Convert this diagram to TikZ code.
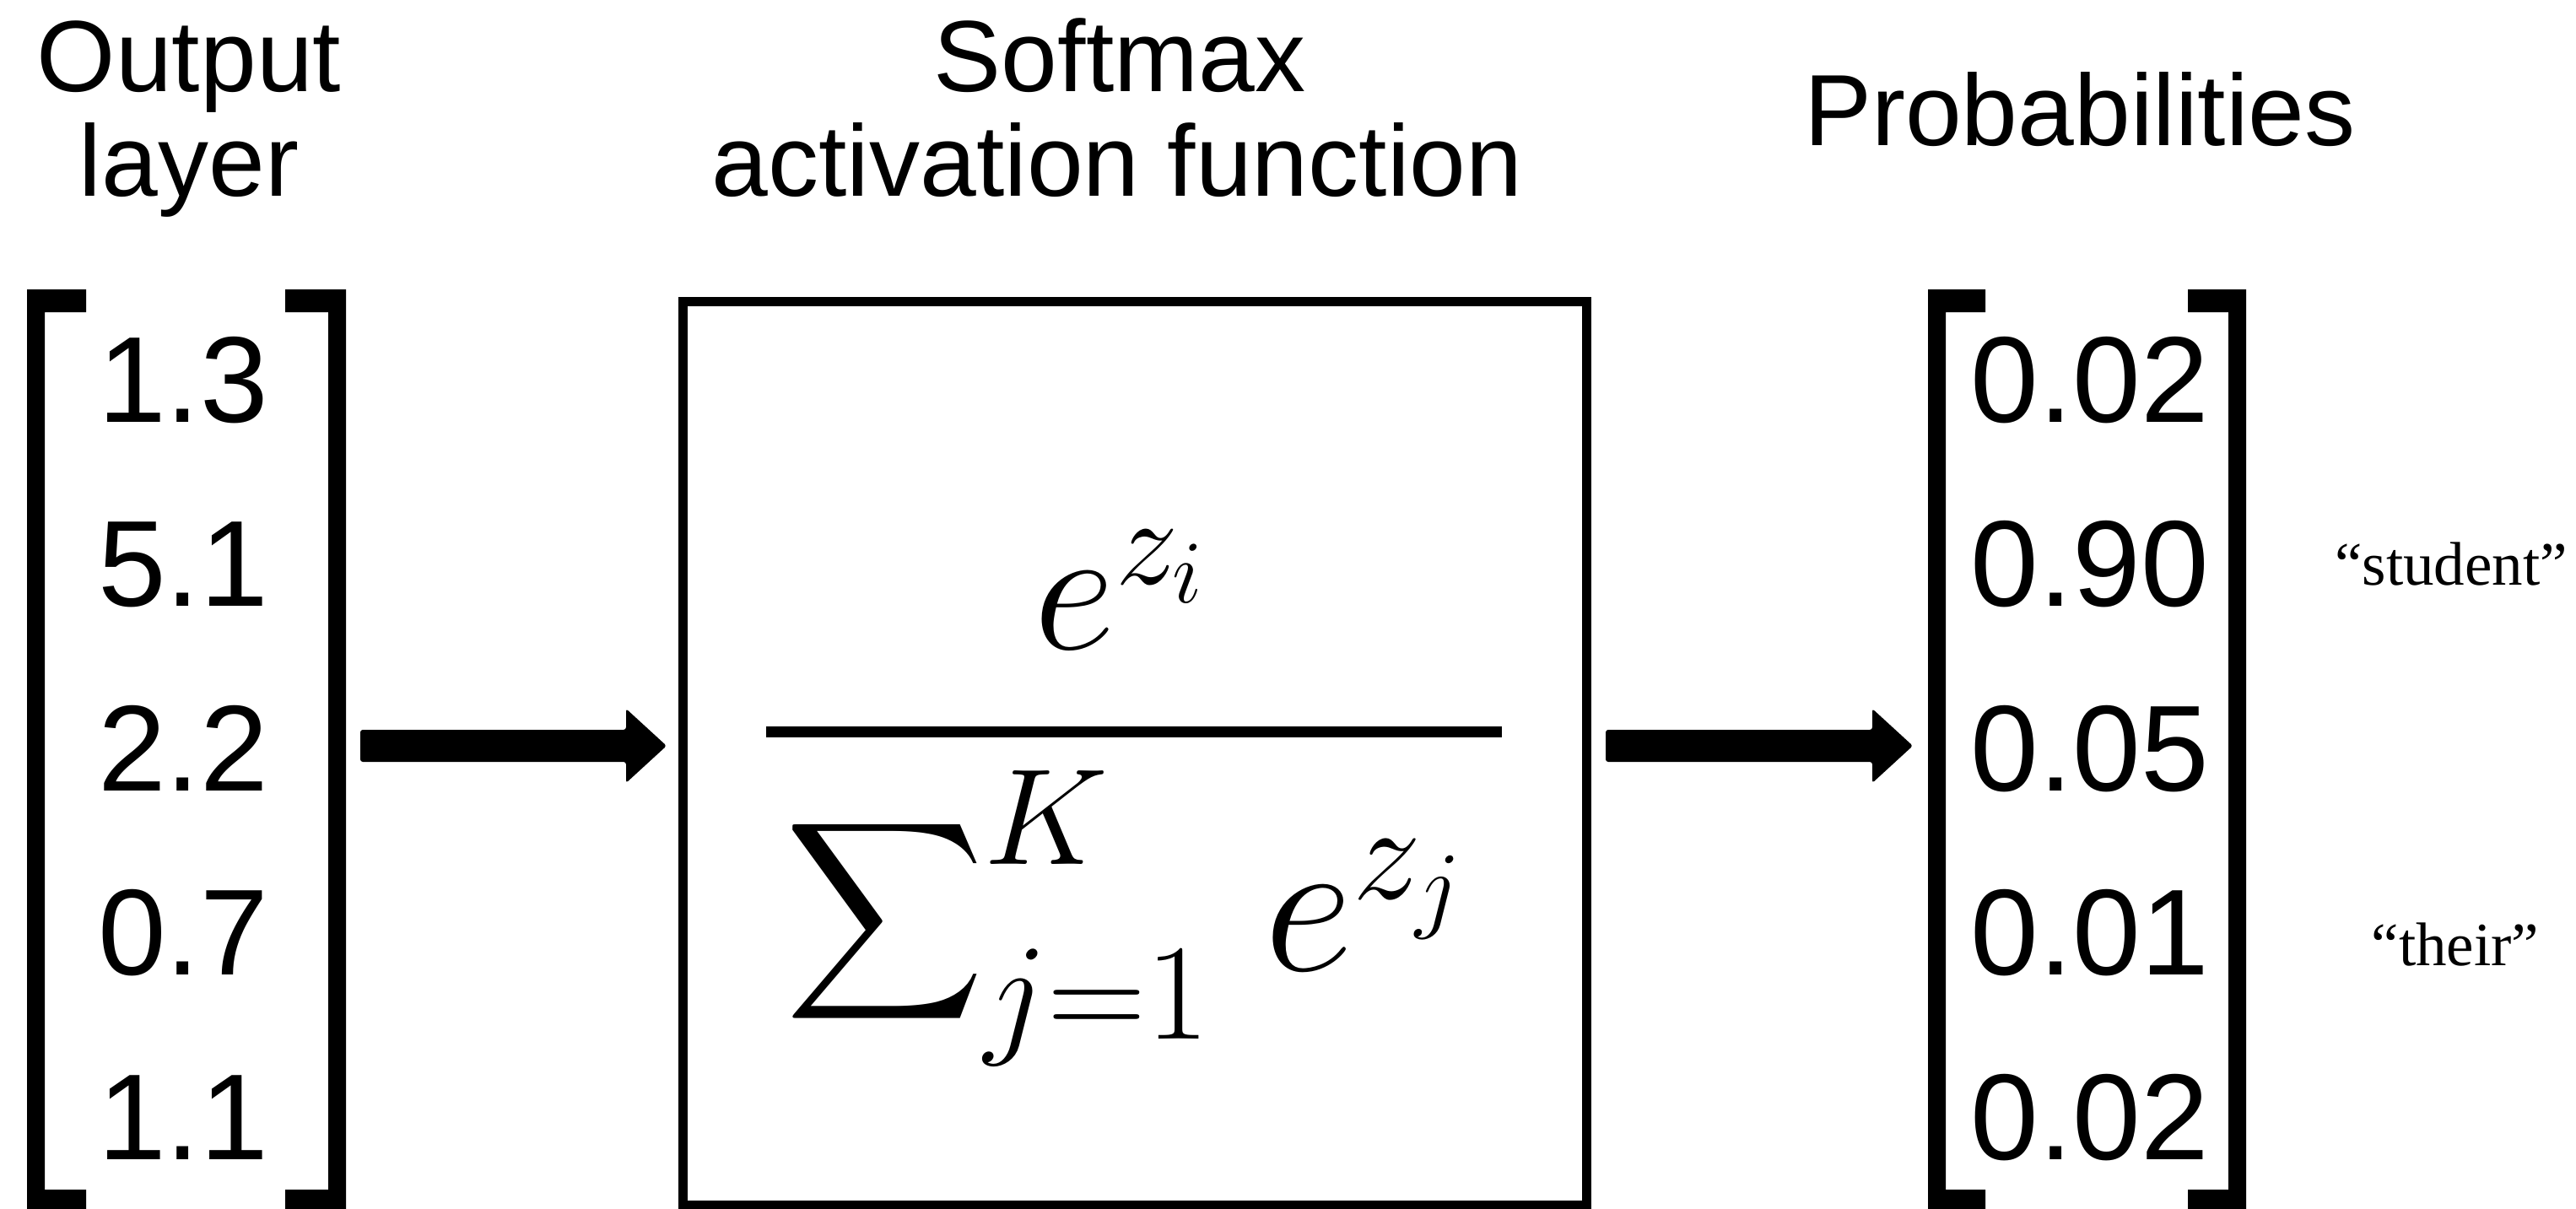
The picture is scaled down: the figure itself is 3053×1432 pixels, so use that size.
\RequirePackage{fix-cm}
\documentclass[tikz,border=0pt]{standalone}
\usepackage{amsmath}
\usepackage[no-math]{fontspec}
\setmainfont{Liberation Sans}
\newfontfamily\quotefont{Liberation Serif}
\usetikzlibrary{calc}
\tikzset{
  ttl/.style={font=\fontsize{120}{124}\selectfont, inner sep=0pt, anchor=base},
  num/.style={font=\fontsize{145}{150}\selectfont, inner sep=0pt, anchor=base},
  qlab/.style={font=\quotefont\fontsize{73}{85}\selectfont, inner sep=0pt, anchor=base},
  mnum/.style={font=\fontsize{212}{250}\selectfont, inner sep=0pt, anchor=base},
  mden/.style={font=\fontsize{232}{270}\selectfont, inner sep=0pt, anchor=base},
  brk/.style={fill=black},
  arr/.style={fill=black, rounded corners=3pt},
  fbox/.style={draw=black, line width=11pt, inner sep=0pt, minimum width=1071pt, minimum height=1071pt},
}
\newcommand\bigsigma{\mathop{\scalebox{16.4}{\fontsize{10}{12}\selectfont\raisebox{1pt}{$\displaystyle\sum$}}}\nolimits}
\newcommand\fatarr[2]{%
  \fill[arr] ($(#1)+(0,-19)$) -- ($(#2)+(-48,-19)$) -- ($(#2)+(-48,-44)$) -- (#2)
     -- ($(#2)+(-48,44)$) -- ($(#2)+(-48,19)$) -- ($(#1)+(0,19)$) -- cycle;}
\begin{document}
\begin{tikzpicture}[x=1pt,y=-1pt]
\useasboundingbox[fill=white] (0,0) rectangle (3053,1432);

% titles
\node[ttl] (t1a) at (224,108) {Output};
\node[ttl] (t1b) at (224,232) {layer};
\node[ttl] (t2a) at (1327,108) {Softmax};
\node[ttl] (t2b) at (1324,232) {activation function};
\node[ttl] (t3)  at (2465,172) {Probabilities};

% left vector
\fill[brk] (32,343) -- (102,343) -- (102,370) -- (53,370) -- (53,1410) -- (102,1410) -- (102,1437) -- (32,1437) -- cycle;
\fill[brk] (410,343) -- (338,343) -- (338,370) -- (389,370) -- (389,1410) -- (338,1410) -- (338,1437) -- (410,1437) -- cycle;
\node[num] (l1) at (217,500) {1.3};
\node[num] (l2) at (217,718.5) {5.1};
\node[num] (l3) at (217,937) {2.2};
\node[num] (l4) at (217,1155.5) {0.7};
\node[num] (l5) at (217,1374) {1.1};

% softmax box
\node[fbox] (box) at (1344.5,892.5) {};
\node[mnum] (numer) at (1326,769) {$e^{z_i}$};
\coordinate (fb1) at (908,867);
\coordinate (fb2) at (1780,867);
\draw[line width=13pt] (fb1) -- (fb2);
\node[mden] (denom) at (1331,1150) {$\bigsigma_{j=1}^{K}\mkern2mu e^{z_j}$};

% right vector
\fill[brk] (2285,343) -- (2353,343) -- (2353,370) -- (2306,370) -- (2306,1410) -- (2353,1410) -- (2353,1437) -- (2285,1437) -- cycle;
\fill[brk] (2662,343) -- (2593,343) -- (2593,370) -- (2641,370) -- (2641,1410) -- (2593,1410) -- (2593,1437) -- (2662,1437) -- cycle;
\node[num] (r1) at (2477,500) {0.02};
\node[num] (r2) at (2477,718.5) {0.90};
\node[num] (r3) at (2477,937) {0.05};
\node[num] (r4) at (2477,1155.5) {0.01};
\node[num] (r5) at (2477,1374) {0.02};

% word labels
\node[qlab] (w1) at (2905,693) {“student”};
\node[qlab] (w2) at (2910,1144) {“their”};

% arrows
\coordinate (a1s) at (427,884);
\coordinate (a1e) at (790,884);
\coordinate (a2s) at (1903,884);
\coordinate (a2e) at (2267,884);
\fatarr{a1s}{a1e}
\fatarr{a2s}{a2e}
\end{tikzpicture}
\end{document}
